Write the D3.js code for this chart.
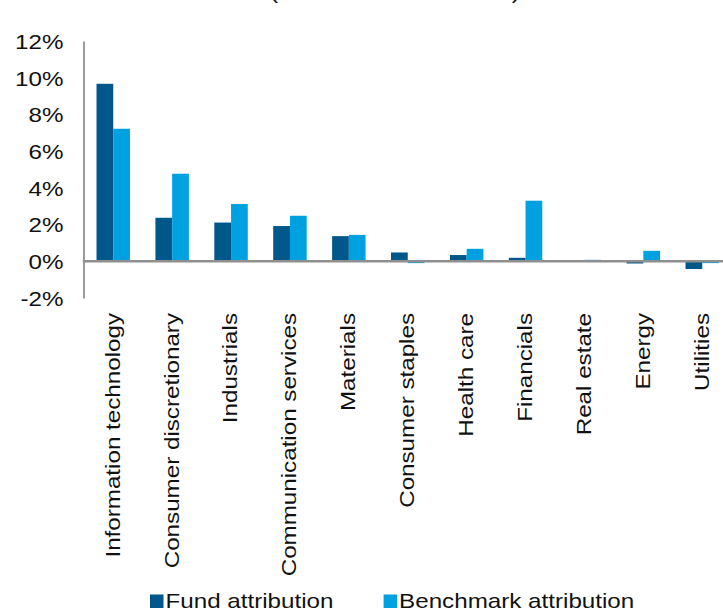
<!DOCTYPE html>
<html>
<head>
<meta charset="utf-8">
<script src="https://cdn.jsdelivr.net/npm/d3@7/dist/d3.min.js"></script>
<style>
  html, body { margin: 0; padding: 0; background: #fff; }
  svg { display: block; }
  text { font-family: "Liberation Sans", Arial, Helvetica, sans-serif; fill: #111; }
</style>
</head>
<body>
<svg id="chart" width="723" height="612"></svg>
<script>
const categories = ["Information technology", "Consumer discretionary", "Industrials",
  "Communication services", "Materials", "Consumer staples", "Health care",
  "Financials", "Real estate", "Energy", "Utilities"];
const seriesNames = ["Fund attribution", "Benchmark attribution"];
const fundValues = [9.67, 2.37, 2.11, 1.92, 1.37, 0.48, 0.34, 0.19, 0.0, -0.12, -0.42];
const benchmarkValues = [7.22, 4.77, 3.12, 2.48, 1.44, -0.1, 0.68, 3.30, 0.08, 0.57, -0.1];
const yTicks = [-2, 0, 2, 4, 6, 8, 10, 12];
const yTickLabels = ["-2%", "0%", "2%", "4%", "6%", "8%", "10%", "12%"];
const titleText = "(Cumulative attribution)";

const colors = ["#00578A", "#00A1E0"];
const FS = 20.5, SX = 1.18;

const svg = d3.select("#chart");
const left = 83.8, step = 58.9;
const x0 = d3.scaleBand().domain(categories).range([left, left + step * categories.length]).padding(0);
const x1 = d3.scaleBand().domain(seriesNames).range([0, x0.bandwidth()]).paddingInner(0).paddingOuter(0.76);
const y = d3.scaleLinear().domain([-2, 12]).range([298, 41]);

const rows = categories.map((c, i) => ({ c, vals: [fundValues[i], benchmarkValues[i]] }));

// title (only its lower edge is visible at the top of the picture)
svg.append("text")
  .attr("transform", `translate(270, -1) scale(${SX},1)`)
  .attr("font-size", FS)
  .text(titleText);

// bars
const groups = svg.append("g").selectAll("g").data(rows).join("g")
  .attr("transform", d => `translate(${x0(d.c)},0)`);
groups.selectAll("rect").data(d => d.vals.map((v, k) => ({ v, k }))).join("rect")
  .attr("x", d => x1(seriesNames[d.k]))
  .attr("width", x1.bandwidth())
  .attr("y", d => y(Math.max(0, d.v)))
  .attr("height", d => Math.abs(y(d.v) - y(0)))
  .attr("fill", d => colors[d.k]);

// y axis
const yAxis = d3.axisLeft(y).tickValues(yTicks).tickSize(0).tickFormat((d, i) => yTickLabels[i]);
const yg = svg.append("g").attr("transform", `translate(${left - 0.3},0)`).call(yAxis);
yg.select(".domain").attr("stroke", "#9b9b9b").attr("stroke-width", 2);
yg.selectAll(".tick text")
  .attr("x", 0).attr("dy", null)
  .attr("font-size", FS)
  .attr("font-family", "Liberation Sans, Arial, sans-serif")
  .attr("fill", "#111")
  .attr("text-anchor", "end")
  .attr("transform", `translate(${63.5 - left + 0.3}, ${FS * 0.36}) scale(${SX},1)`);

// zero line
svg.append("line")
  .attr("x1", left - 1).attr("x2", 723)
  .attr("y1", y(0)).attr("y2", y(0))
  .attr("stroke", "#8f8f8f").attr("stroke-width", 2.5);

// category labels (rotated)
svg.append("g").selectAll("text").data(categories).join("text")
  .attr("transform", c => `translate(${x0(c) + x0.bandwidth() / 2 + 6.4}, 313) rotate(-90) scale(${SX},1)`)
  .attr("text-anchor", "end")
  .attr("font-size", FS)
  .text(c => c);

// legend
const legendX = [150, 383.6];
const legend = svg.append("g").selectAll("g").data(seriesNames).join("g");
legend.append("rect")
  .attr("x", (d, i) => legendX[i]).attr("y", 594.5)
  .attr("width", 13.5).attr("height", 13.5)
  .attr("fill", (d, i) => colors[i]);
legend.append("text")
  .attr("transform", (d, i) => `translate(${legendX[i] + 15.5}, 607.6) scale(${SX},1)`)
  .attr("font-size", FS)
  .text(d => d);
</script>
</body>
</html>
